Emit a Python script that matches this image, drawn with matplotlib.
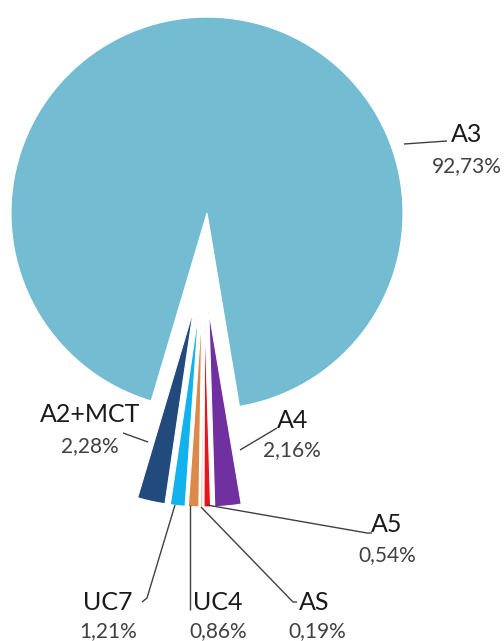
import matplotlib
matplotlib.use("Agg")
import matplotlib.pyplot as plt

# ---- data ----
categories = ["A3", "A4", "A5", "AS", "UC4", "UC7", "A2+MCT"]
values = [92.73, 2.16, 0.54, 0.19, 0.86, 1.21, 2.28]
value_labels = ["92,73%", "2,16%", "0,54%", "0,19%", "0,86%", "1,21%", "2,28%"]
colors = ["#74BCD2", "#7030A0", "#E8141E", "#F2BDB8", "#DC8A4C", "#12B2EE", "#224A7C"]

W, H = 504, 641
fig = plt.figure(figsize=(W / 100, H / 100), dpi=100)
ax = fig.add_axes([0, 0, 1, 1])

def sy(y):
    return H - y

R = 196
cx, cy = 204, sy(262)
ax.pie(values, colors=colors, radius=R, center=(cx, cy), startangle=-106.55,
       counterclock=False, explode=[0.25 * R] * len(values),
       wedgeprops=dict(edgecolor="white", linewidth=0.8), frame=True)
ax.set_xlim(0, W)
ax.set_ylim(0, H)
ax.set_aspect("equal")
ax.axis("off")

font = "Lato"
name_col = "#1a1a1a"
pct_col = "#404040"
line_col = "#404040"

# label placement (screen pixel coords): name centre, pct centre, leader line
layout = {
    "A3": ((467, 134), (467, 166), [(404, 144), (447, 141)]),
    "A4": ((293, 420), (292, 450), [(240, 450), (277, 428)]),
    "A5": ((387, 525), (387, 555), [(207, 505), (367, 533), (372, 533)]),
    "AS": ((314, 602), (317, 631), [(201, 507), (293, 602), (297, 602)]),
    "UC4": ((218, 602), (218, 631), [(190, 505), (190, 610)]),
    "UC7": ((108, 602), (108, 631), [(175, 505), (147, 598), (142, 602)]),
    "A2+MCT": ((90, 415), (90, 446), [(148, 442), (123, 433)]),
}

for cat, pct in zip(categories, value_labels):
    (nx, ny), (px, py), pts = layout[cat]
    ax.text(nx, sy(ny), cat, ha="center", va="center", fontsize=18,
            family=font, color=name_col)
    ax.text(px, sy(py), pct, ha="center", va="center", fontsize=15,
            family=font, color=pct_col)
    xs = [p[0] for p in pts]
    ys = [sy(p[1]) for p in pts]
    ax.plot(xs, ys, color=line_col, linewidth=1.0, solid_capstyle="butt")

fig.savefig("out.png", dpi=100, facecolor="white")
